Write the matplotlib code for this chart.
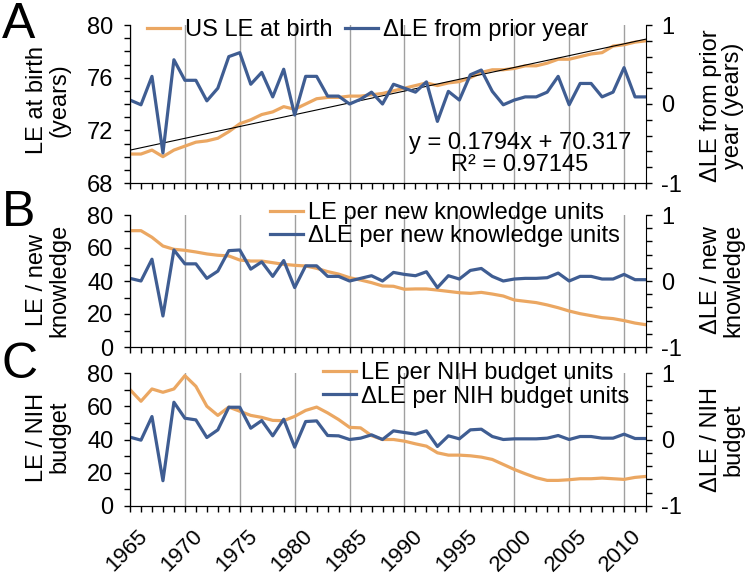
import matplotlib
matplotlib.use("Agg")
import matplotlib.pyplot as plt
import matplotlib.transforms as mtransforms
from matplotlib.ticker import MultipleLocator

plt.rcParams["font.family"] = ["Liberation Sans", "DejaVu Sans"]

# -------------------------------------------------------
# data (1965-2012)
# -------------------------------------------------------
years = list(range(1965, 2013))

le_birth = [70.2, 70.2, 70.5, 70.0, 70.5, 70.8, 71.1, 71.2, 71.4, 71.9,
            72.5, 72.8, 73.2, 73.4, 73.8, 73.6, 74.0, 74.4, 74.5, 74.5,
            74.6, 74.6, 74.7, 74.8, 75.0, 75.2, 75.4, 75.6, 75.4, 75.6,
            75.7, 76.0, 76.4, 76.6, 76.6, 76.7, 76.9, 76.9, 77.1, 77.4,
            77.4, 77.6, 77.8, 77.9, 78.4, 78.5, 78.7, 78.8]

d_le = [0.05, -0.01, 0.35, -0.62, 0.56, 0.30, 0.30, 0.04, 0.20, 0.60,
        0.65, 0.25, 0.40, 0.09, 0.44, -0.14, 0.35, 0.35, 0.10, 0.10,
        0.00, 0.06, 0.15, 0.00, 0.25, 0.20, 0.15, 0.28, -0.22, 0.16,
        0.05, 0.37, 0.43, 0.16, -0.01, 0.05, 0.09, 0.09, 0.15, 0.35,
        -0.01, 0.26, 0.26, 0.09, 0.15, 0.46, 0.09, 0.09]

le_know = [70.5, 70.5, 66.5, 61.2, 59.2, 58.6, 57.6, 56.4, 55.6, 55.2,
           52.7, 52.1, 52.1, 51.1, 50.1, 49.5, 49.1, 47.7, 45.7, 44.2,
           42.0, 40.6, 39.0, 37.0, 36.8, 35.0, 35.2, 35.2, 34.5, 33.7,
           32.9, 32.5, 33.1, 32.1, 30.9, 28.5, 27.7, 26.9, 25.5, 23.8,
           21.8, 20.2, 19.0, 17.8, 17.2, 16.0, 14.5, 13.5]

d_know = [0.04, 0.00, 0.33, -0.53, 0.47, 0.26, 0.26, 0.04, 0.15, 0.46,
          0.47, 0.18, 0.29, 0.07, 0.31, -0.10, 0.23, 0.23, 0.07, 0.07,
          0.00, 0.04, 0.08, 0.00, 0.13, 0.10, 0.08, 0.14, -0.10, 0.08,
          0.03, 0.16, 0.19, 0.07, 0.00, 0.03, 0.04, 0.04, 0.05, 0.12,
          0.00, 0.07, 0.07, 0.03, 0.03, 0.10, 0.02, 0.02]

le_nih = [70.0, 63.0, 70.4, 68.4, 70.4, 78.4, 72.0, 60.0, 54.5, 59.5,
          57.0, 54.5, 53.3, 51.5, 51.3, 53.9, 57.5, 59.5, 56.0, 52.0,
          47.3, 47.0, 42.3, 40.0, 40.0, 39.0, 37.4, 36.0, 32.0, 30.6,
          30.6, 30.2, 29.4, 28.0, 25.0, 22.0, 19.4, 17.0, 15.4, 15.4,
          15.8, 16.4, 16.4, 16.8, 16.4, 16.0, 17.2, 17.8]

d_nih = [0.035, -0.01, 0.345, -0.62, 0.56, 0.32, 0.295, 0.03, 0.145, 0.485,
         0.485, 0.17, 0.285, 0.055, 0.305, -0.115, 0.27, 0.28, 0.06, 0.055,
         0.00, 0.02, 0.07, 0.00, 0.13, 0.105, 0.08, 0.13, -0.105, 0.055,
         0.01, 0.145, 0.155, 0.045, 0.00, 0.01, 0.01, 0.01, 0.02, 0.06,
         0.00, 0.045, 0.045, 0.02, 0.02, 0.08, 0.015, 0.015]

# trend line printed on panel A (x = 1..48)
slope, intercept = 0.1794, 70.317

ORANGE = "#EBA762"
BLUE = "#3F5D92"
FS = 17

W, H = 753, 577
fig = plt.figure(figsize=(W / 100, H / 100), dpi=100)


def px_axes(top, bottom, left=130, right=646):
    return fig.add_axes([left / W, 1 - bottom / H, (right - left) / W, (bottom - top) / H])


def style(ax, ax2, show_x):
    ax.set_xlim(1965, 2012)
    ax.xaxis.set_major_locator(MultipleLocator(5))
    ax.xaxis.set_minor_locator(MultipleLocator(1))
    ax.grid(axis="x", which="major", color="#a0a0a0", lw=1)
    for a in (ax, ax2):
        a.spines["top"].set_visible(False)
        a.tick_params(which="both", direction="out", length=4, width=1, labelsize=FS)
    ax.spines["right"].set_visible(False)
    ax.tick_params(axis="y", which="both", pad=8)
    ax2.tick_params(axis="y", which="both", pad=7)
    ax2.set_ylim(-1, 1)
    ax2.yaxis.set_minor_locator(MultipleLocator(0.2))
    ax2.set_yticks([-1, 0, 1])
    ax2.set_yticklabels(["-1", "0", "1"])
    if show_x:
        ax.set_xticks(range(1965, 2011, 5))
        ax.set_xticklabels([str(y) for y in range(1965, 2011, 5)], rotation=45,
                           ha="right", va="top", rotation_mode="anchor", fontsize=16)
        ax.tick_params(axis="x", which="major", pad=10)
        off = mtransforms.ScaledTranslation(0.07, 0, fig.dpi_scale_trans)
        for lab in ax.get_xticklabels():
            lab.set_transform(lab.get_transform() + off)
    else:
        ax.tick_params(axis="x", which="both", labelbottom=False)


leg_kw = dict(frameon=False, fontsize=FS, borderpad=0, borderaxespad=0,
              handlelength=1.4, handletextpad=0.2)

# ---------------- panel A ----------------
axA = px_axes(25, 183)
axA2 = axA.twinx()
lA1, = axA.plot(years, le_birth, color=ORANGE, lw=2.3)
trend = [slope * (i + 1) + intercept for i in range(len(years))]
axA.plot(years, trend, color="black", lw=0.8)
lA2, = axA2.plot(years, d_le, color=BLUE, lw=2.3)
axA.set_ylim(68, 80)
axA.yaxis.set_major_locator(MultipleLocator(4))
axA.yaxis.set_minor_locator(MultipleLocator(1))
style(axA, axA2, False)
axA.text(0.756, 0.184, "y = 0.1794x + 70.317\nR² = 0.97145", transform=axA.transAxes,
         ha="center", va="center", fontsize=FS, linespacing=1.05)
axA2.legend([lA1, lA2], ["US LE at birth", "ΔLE from prior year"], loc="center left",
            bbox_to_anchor=(0.033, 0.968), ncol=2, columnspacing=0.55, **leg_kw)

# ---------------- panel B ----------------
axB = px_axes(215, 347)
axB2 = axB.twinx()
lB1, = axB.plot(years, le_know, color=ORANGE, lw=2.3)
lB2, = axB2.plot(years, d_know, color=BLUE, lw=2.3)
axB.set_ylim(0, 80)
axB.yaxis.set_major_locator(MultipleLocator(20))
axB.yaxis.set_minor_locator(MultipleLocator(10))
style(axB, axB2, False)
axB2.legend([lB1, lB2], ["LE per new knowledge units", "ΔLE per new knowledge units"],
            loc="center left", bbox_to_anchor=(0.271, 0.928), labelspacing=0.05, **leg_kw)

# ---------------- panel C ----------------
axC = px_axes(373, 506)
axC2 = axC.twinx()
lC1, = axC.plot(years, le_nih, color=ORANGE, lw=2.3)
lC2, = axC2.plot(years, d_nih, color=BLUE, lw=2.3)
axC.set_ylim(0, 80)
axC.yaxis.set_major_locator(MultipleLocator(20))
axC.yaxis.set_minor_locator(MultipleLocator(10))
style(axC, axC2, True)
axC2.legend([lC1, lC2], ["LE per NIH budget units", "ΔLE per NIH budget units"],
            loc="center left", bbox_to_anchor=(0.374, 0.91), labelspacing=0.05, **leg_kw)

# ---------------- labels ----------------
def ftext(x, y, s, **kw):
    fig.text(x / W, 1 - y / H, s, **kw)


lab_kw = dict(rotation=90, ha="center", va="center", fontsize=FS, linespacing=1.05)
ftext(48, 100, "LE at birth\n(years)", **lab_kw)
ftext(722, 106, "ΔLE from prior\nyear (years)", **lab_kw)
ftext(48, 280, "LE / new\nknowledge", **lab_kw)
ftext(722, 280, "ΔLE / new\nknowledge", **lab_kw)
ftext(48, 437, "LE / NIH\nbudget", **lab_kw)
ftext(722, 440, "ΔLE / NIH\nbudget", **lab_kw)

ftext(2, 38, "A", fontsize=36, va="baseline", ha="left")
ftext(2, 226, "B", fontsize=36, va="baseline", ha="left")
ftext(2, 378, "C", fontsize=36, va="baseline", ha="left")

fig.savefig("out.png", dpi=100, facecolor="white")
